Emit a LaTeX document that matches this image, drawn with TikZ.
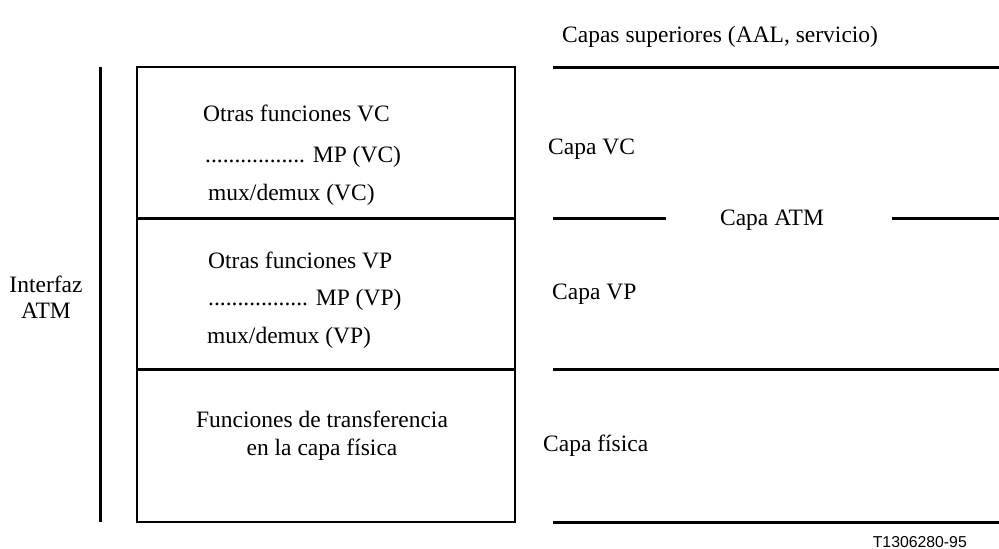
\documentclass[tikz,border=0pt]{standalone}
\usepackage{fontspec}
\setmainfont{Liberation Serif}
\newfontfamily\labelsans{Liberation Sans}
\begin{document}
\begin{tikzpicture}[x=1pt,y=-1pt,
  txt/.style={anchor=base west,inner sep=0pt,font=\fontsize{23.5}{28}\selectfont},
  ctxt/.style={anchor=base,inner sep=0pt,font=\fontsize{23.5}{28}\selectfont,align=center},
  thickline/.style={line width=3pt},
  thinbox/.style={line width=1.3pt}]
\useasboundingbox (0,0) rectangle (999,549);
% interface bar
\draw[thickline] (100,67) -- (100,522);
% box
\draw[thinbox] (137,67) rectangle (515,522);
\draw[thickline] (137,218) -- (515,218);
\draw[thickline] (137,369) -- (515,369);
% right layer lines
\draw[thickline] (553,67) -- (999,67);
\draw[thickline] (553,218) -- (666,218);
\draw[thickline] (892,218) -- (999,218);
\draw[thickline] (553,369) -- (999,369);
\draw[thickline] (553,522) -- (999,522);
% box texts
\node[txt] (ovc) at (203,121) {Otras funciones VC};
\node[txt] (mpvc) at (205,162) {................. MP (VC)};
\node[txt] (mvc) at (208,200) {mux/demux (VC)};
\node[txt] (ovp) at (208,268) {Otras funciones VP};
\node[txt] (mpvp) at (208,305) {................. MP (VP)};
\node[txt] (mvp) at (207,343) {mux/demux (VP)};
\node[ctxt] (ft) at (322,427) {Funciones de transferencia};
\node[ctxt] (fc) at (322,455) {en la capa física};
% right labels
\node[txt] (cs) at (562,42) {Capas superiores (AAL, servicio)};
\node[txt] (cvc) at (548,154) {Capa VC};
\node[ctxt] (catm) at (772,225) {Capa ATM};
\node[txt] (cvp) at (552,299) {Capa VP};
\node[txt] (cf) at (543,451) {Capa física};
% left label
\node[ctxt] (if1) at (46,292) {Interfaz};
\node[ctxt] (if2) at (46,318) {ATM};
% reference
\node[anchor=base east,inner sep=0pt,font=\labelsans\fontsize{15.8}{18}\selectfont] (ref) at (967,547) {T1306280-95};
\end{tikzpicture}
\end{document}
